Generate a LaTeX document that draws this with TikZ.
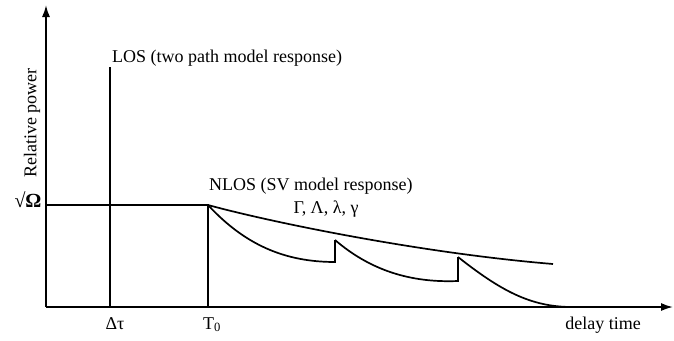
\documentclass[tikz,border=0pt]{standalone}
\usepackage{fontspec}
\setmainfont{Liberation Serif}
\usetikzlibrary{arrows.meta}
\begin{document}
\begin{tikzpicture}[x=1pt,y=-1pt,
  line/.style={line width=1.7pt},
  axis/.style={line width=1.7pt,-{Latex[length=12pt,width=8pt]}},
  lbl/.style={font=\fontsize{18}{20}\selectfont, inner sep=0pt}]
\useasboundingbox (0,0) rectangle (674,340);
% coordinates
\coordinate (O) at (46,307);
\coordinate (Ytop) at (46,5);
\coordinate (Xend) at (673,307);
\coordinate (L0) at (110,307);
\coordinate (L1) at (110,67);
\coordinate (H0) at (46,205);
\coordinate (T0) at (208,307);
\coordinate (P0) at (208,205);
\coordinate (P1) at (335,240);
\coordinate (P2) at (458,257);
\coordinate (Pe) at (553,264);
\coordinate (B1) at (335,262);
\coordinate (B2) at (458,281);
\coordinate (B3) at (572,307);
% axes
\draw[axis] (O) -- (Ytop);
\draw[axis] (O) -- (Xend);
% LOS line
\draw[line] (L0) -- (L1);
% level and T0
\draw[line] (H0) -- (P0) -- (T0);
% envelope
\draw[line] (P0) .. controls (270,222) and (420,253) .. (Pe);
% clusters
\draw[line] (P0) .. controls (245,245) and (285,262) .. (B1) -- (P1);
\draw[line] (P1) .. controls (370,270) and (410,283) .. (B2) -- (P2);
\draw[line] (P2) .. controls (500,290) and (530,307) .. (B3);
% labels
\node[lbl, anchor=base west] (los) at (112,62) {LOS (two path model response)};
\node[lbl, anchor=base west] (nlos) at (209,190) {NLOS (SV model response)};
\node[lbl, anchor=base] (par) at (326,213) {Γ, Λ, λ, γ};
\node[lbl, rotate=90, anchor=center] (rp) at (32,123) {Relative power};
\node[lbl, anchor=center, font=\fontsize{20}{22}\selectfont\bfseries] (om) at (28,200) {√Ω};
\node[lbl, anchor=base] (dt) at (115,329) {Δτ};
\node[lbl, anchor=base] (t0) at (212,329) {T\textsubscript{0}};
\node[lbl, anchor=base] (dly) at (603,329) {delay time};
\end{tikzpicture}
\end{document}
